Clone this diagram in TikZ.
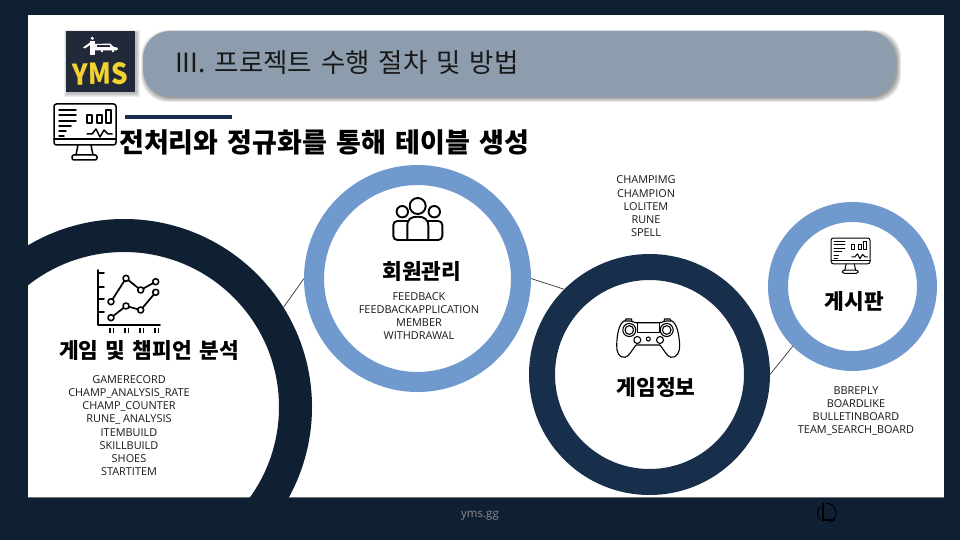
\documentclass[tikz,border=0pt]{standalone}
\usepackage{fontspec}
\setmainfont[WordSpace=1.5]{Noto Sans CJK KR}
\newfontfamily\listfont{Open Sans}
\usetikzlibrary{positioning}

\definecolor{frameNavy}{HTML}{0F2033}
\definecolor{ringNavy}{HTML}{182F4C}
\definecolor{ringBlue}{HTML}{7099CE}
\definecolor{pillGray}{HTML}{8D9DAD}
\definecolor{logoDark}{HTML}{222A3A}
\definecolor{logoYellow}{HTML}{F2D22E}

\begin{document}
\begin{tikzpicture}
  [x=1pt, y=-1pt,
    ring/.style={%
      circle, draw, fill=none, inner sep=0pt
    },
    ringtitle/.style={%
      font=\bfseries\fontsize{21.4}{24}\selectfont, text=black, inner sep=0pt
    },
    tablelist/.style={%
      font=\listfont\fontsize{10.9}{13.25}\selectfont, align=center,
      text=black!90, inner sep=0pt
    },
    connector/.style={%
      draw=black!80, line width=0.7pt
    },
    icon/.style={%
      draw=black, line join=round, line cap=round, fill=none
    },
    monitor/.pic={%
      \draw[icon, rounded corners=2.5pt] (0,0) rectangle (62,41);
      \draw[icon] (0,35) -- (62,35);
      \draw[icon] (24,41) -- (22,51) (37,41) -- (39,51);
      \draw[icon, rounded corners=2pt] (18,51) rectangle (43,56);
      \foreach \ly/\lx in {6/22, 11/22, 17/22, 22/17, 27/12, 32/10}
        \draw[icon] (5,\ly) -- (\lx,\ly);
      \draw[icon] (33,11) rectangle (38,19);
      \draw[icon] (43,11) rectangle (48,19);
      \draw[icon] (52,6) rectangle (57,19);
      \draw[icon] (33,30) -- (38,30) -- (42,25) -- (46,33) -- (50,26) -- (54,30) -- (58,30);
    },
  ]

  \useasboundingbox (0,0) rectangle (960,540);
  \clip (0,0) rectangle (960,540);

  % frame and panel
  \fill[frameNavy] (0,0) rectangle (960,540);
  \fill[white] (28,15) rectangle (944,497);
  \draw[black!55, line width=0.6pt] (28,497) -- (944,497);

  % header
  \foreach \sh in {0,1,2,3}
    \fill[black, opacity=0.07] (67-\sh,33-\sh) rectangle (137+\sh,94+\sh);
  \fill[logoDark] (66,31) rectangle (135,92);
  \fill[white] (92.3,38.3) circle (1.7);
  \fill[white] (90,41) rectangle (95,55);
  \fill[white] (83,47.5) -- (90,42.5) -- (90,45) -- (85,48.5) -- cycle;
  \fill[white] (95,44) -- (110,43.5) -- (113,46.5) -- (118,48) -- (117,50.5) -- (95,50.5) -- cycle;
  \fill[logoDark] (97,44.8) rectangle (110,46.8);
  \fill[white] (102,51) circle (1.3) (113,51) circle (1.3);
  \node[font=\bfseries\fontsize{25}{25}\selectfont, text=logoYellow, inner sep=0pt,
    xscale=1.05, yscale=1.15, rotate=1] (logotext) at (100.5,74) {YMS};

  \foreach \sh in {0,1,2,3,4}
    \fill[black, opacity=0.09, rounded corners=27pt] (145-\sh,34-\sh) rectangle (897+\sh,98+\sh);
  \fill[pillGray, rounded corners=27pt] (143,31) rectangle (895,97);
  \node[font=\fontsize{26.5}{28}\selectfont, text=black!90, anchor=west, inner sep=0pt]
    (headertext) at (175,63) {III. 프로젝트 수행 절차 및 방법};

  \pic[line width=1.5pt] at (54,104) {monitor};
  \node[fill=ringNavy, minimum width=107pt, minimum height=4pt, inner sep=0pt, anchor=west]
    (titlerule) at (125,117) {};
  \node[font=\bfseries\fontsize{27}{30}\selectfont, text=black, anchor=west, inner sep=0pt]
    (pagetitle) at (119,142) {전처리와 정규화를 통해 테이블 생성};

  % rings
  \node[ring, draw=frameNavy, line width=33pt, minimum size=343pt] (ringanalysis) at (124,407) {};
  \node[ring, draw=ringBlue, line width=20pt, minimum size=207pt] (ringmember) at (417.5,278.5) {};
  \node[ring, draw=ringNavy, line width=26pt, minimum size=215pt] (ringinfo) at (649.5,374.5) {};
  \node[ring, draw=ringBlue, line width=20pt, minimum size=149pt] (ringboard) at (852.5,286.5) {};

  \path[connector]
  (ringanalysis.32) edge (ringmember.180)
  (ringmember.0) edge (ringinfo.135)
  (ringinfo.0) edge (ringboard.225);

  % ring titles and tables
  \node[ringtitle] (titleanalysis) at (149,350) {게임 및 챔피언 분석};
  \node[tablelist] (listanalysis) [below of=titleanalysis, node distance=75.5pt, xshift=-20pt]
    {GAMERECORD\\CHAMP\_ANALYSIS\_RATE\\CHAMP\_COUNTER\\RUNE\_ ANALYSIS\\ITEMBUILD\\SKILLBUILD\\SHOES\\STARTITEM};

  \node[ringtitle] (titlemember) at (421.7,271.7) {회원관리};
  \node[tablelist] (listmember) [below of=titlemember, node distance=44.3pt, xshift=-2.7pt]
    {FEEDBACK\\FEEDBACKAPPLICATION\\MEMBER\\WITHDRAWAL};

  \node[ringtitle] (titleinfo) at (656,388) {게임정보};
  \node[tablelist] (listinfo) [above of=ringinfo, node distance=168pt, xshift=-3.5pt]
    {CHAMPIMG\\CHAMPION\\LOLITEM\\RUNE\\SPELL};

  \node[ringtitle] (titleboard) at (854.5,301.7) {게시판};
  \node[tablelist] (listboard) [below of=titleboard, node distance=109.3pt, xshift=1.5pt]
    {BBREPLY\\BOARDLIKE\\BULLETINBOARD\\TEAM\_SEARCH\_BOARD};

  % chart icon
  \draw[icon, line width=1.8pt] (98,270) -- (98,325) -- (160,325);
  \foreach \ty in {273,287,299,312}
    \draw[icon, line width=1.5pt] (98,\ty) -- (104,\ty);
  \foreach \tx in {110,125,140,155}
    \draw[icon, line width=1.3pt, line cap=butt] (\tx,328) -- (\tx,333) (\tx+3.5,328) -- (\tx+3.5,333);
  \draw[icon, line width=1.7pt] (111,301.7) -- (126,278.3) -- (140.7,290) -- (155.7,281.7);
  \draw[icon, line width=1.7pt] (111,317.7) -- (126,306) -- (140.7,310) -- (155.7,292.3);
  \foreach \px/\py in {111/301.7, 126/278.3, 140.7/290, 155.7/281.7, 111/317.7, 126/306, 140.7/310, 155.7/292.3}
    \draw[icon, fill=white, line width=1.6pt] (\px,\py) circle (3);

  % people icon
  \draw[icon, line width=1.9pt] (417.7,206) circle (8) (402.3,211.7) circle (5.7) (434.3,211.7) circle (5.7);
  \draw[icon, line width=1.9pt] (407.3,240) -- (407.3,226) .. controls (407.3,219) and (411,216.7) .. (417.7,216.7)
    .. controls (424,216.7) and (428.3,219) .. (428.3,226) -- (428.3,240);
  \draw[icon, line width=1.9pt, rounded corners=4pt] (407.3,221) -- (393.3,221) -- (393.3,240) -- (442.3,240) -- (442.3,221) -- (428.3,221);

  % gamepad icon
  \begin{scope}[shift={(616,318)}, line width=1.1pt]
    \draw[icon] (8,3) .. controls (3,6) and (1,16) .. (0.7,27) .. controls (0.3,34) and (3,40) .. (9,39.3)
      .. controls (13,38.5) and (16,32) .. (20,27) -- (44,27) .. controls (48,32) and (51,38.5) .. (55,39.3)
      .. controls (61,40) and (64,34) .. (63.7,27) .. controls (63,16) and (61,6) .. (56,3)
      -- (50,3) -- (44,4.7) -- (20,4.7) -- (14,3) -- cycle;
    \draw[icon] (9,3) -- (10,1) -- (15.5,1) -- (16,3.5) (48,3.5) -- (48.5,1) -- (54,1) -- (55,3);
    \draw[icon] (21.3,4.7) rectangle (43.3,14.3);
    \draw[icon] (13.3,12) circle (6.5) (13.3,12) circle (4.3) (50.7,12) circle (6.5) (50.7,12) circle (4.3);
    \draw[icon] (21.3,22) circle (3.5) (44,22) circle (3.5) (32.3,21) circle (2);
  \end{scope}

  \pic[scale=0.63, line width=1pt] at (831,238) {monitor};

  % footer
  \node[font=\listfont\fontsize{11.5}{14}\selectfont, text=black!45!white, inner sep=0pt] (footertext) at (480,516) {yms.gg};
  \draw[black, line width=1.3pt] (823,503) -- (823,520) -- (835,520);
  \draw[black, line width=1pt] (826,503) arc (-90:70:10);
  \draw[black, line width=1pt] (820,507) arc (225:135:8.5);
\end{tikzpicture}
\end{document}
